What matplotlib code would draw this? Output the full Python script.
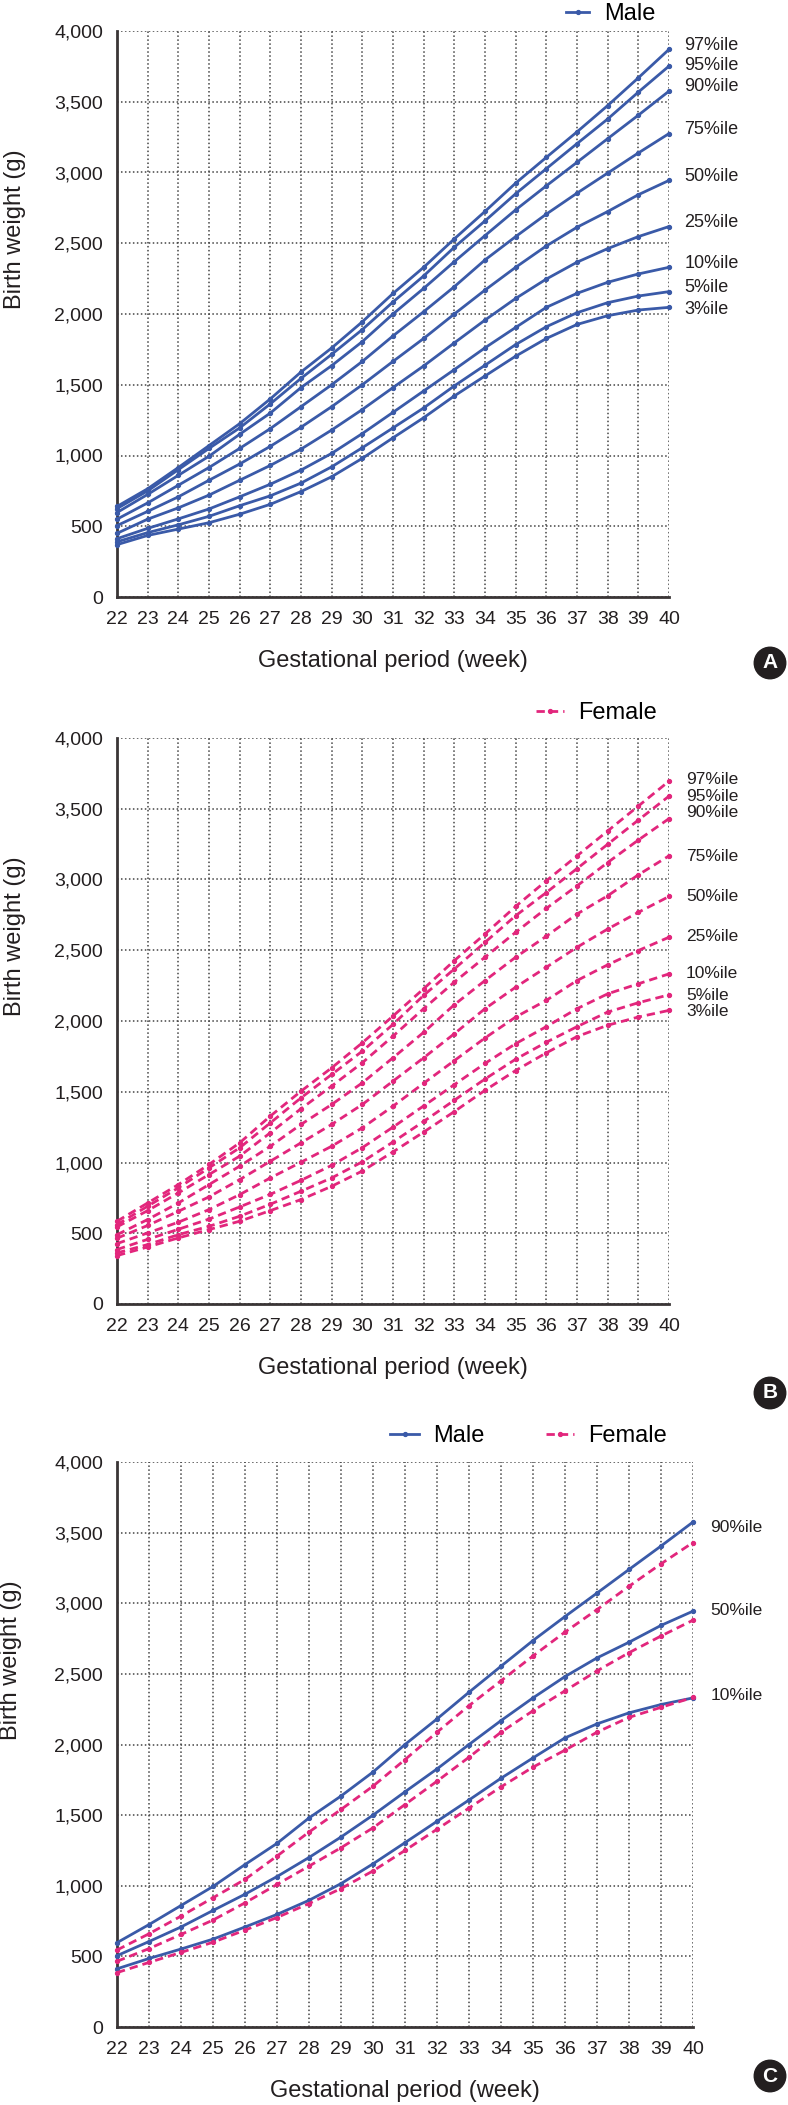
import numpy as np
import matplotlib.pyplot as plt
from matplotlib.lines import Line2D

plt.rcParams['font.family'] = ['Liberation Sans Narrow', 'Liberation Sans', 'DejaVu Sans']

weeks = list(range(22, 41))
pct_names = ['97%ile', '95%ile', '90%ile', '75%ile', '50%ile', '25%ile', '10%ile', '5%ile', '3%ile']

# male birth weight percentiles (g), weeks 22..40
male = {
    '97': [640, 765, 915, 1070, 1225, 1400, 1590, 1760, 1945, 2145, 2330, 2531, 2725, 2925, 3107, 3287, 3473, 3669, 3870],
    '95': [625, 750, 900, 1050, 1195, 1365, 1545, 1715, 1890, 2085, 2269, 2472, 2658, 2850, 3027, 3204, 3378, 3568, 3752],
    '90': [597, 725, 860, 995, 1150, 1300, 1480, 1635, 1805, 2000, 2181, 2370, 2554, 2736, 2906, 3072, 3239, 3405, 3575],
    '75': [550, 665, 790, 915, 1050, 1190, 1345, 1500, 1665, 1845, 2016, 2193, 2382, 2547, 2706, 2854, 2996, 3138, 3275],
    '50': [505, 605, 708, 825, 940, 1065, 1200, 1345, 1500, 1665, 1827, 2000, 2169, 2330, 2481, 2613, 2724, 2843, 2944],
    '25': [450, 550, 630, 720, 825, 930, 1045, 1180, 1325, 1480, 1633, 1796, 1957, 2110, 2247, 2366, 2462, 2547, 2618],
    '10': [412, 485, 552, 622, 708, 797, 897, 1015, 1155, 1305, 1456, 1607, 1761, 1905, 2047, 2146, 2224, 2283, 2330],
    '5':  [390, 455, 510, 570, 645, 715, 805, 920, 1055, 1195, 1336, 1492, 1638, 1784, 1910, 2009, 2080, 2127, 2158],
    '3':  [370, 435, 480, 525, 585, 655, 745, 850, 980, 1125, 1267, 1421, 1562, 1702, 1827, 1926, 1988, 2028, 2047],
}

# female birth weight percentiles (g), weeks 22..40
female = {
    '97': [585, 714, 844, 986, 1139, 1328, 1504, 1669, 1846, 2035, 2228, 2427, 2615, 2810, 2991, 3167, 3343, 3519, 3695],
    '95': [561, 691, 821, 962, 1104, 1280, 1457, 1622, 1787, 1976, 2181, 2368, 2556, 2744, 2908, 3077, 3249, 3420, 3589],
    '90': [545, 660, 785, 915, 1045, 1210, 1380, 1540, 1705, 1893, 2087, 2275, 2451, 2627, 2796, 2955, 3120, 3279, 3430],
    '75': [490, 597, 714, 844, 974, 1115, 1269, 1410, 1563, 1740, 1920, 2115, 2286, 2451, 2599, 2756, 2885, 3033, 3167],
    '50': [465, 555, 655, 757, 879, 1009, 1139, 1269, 1410, 1575, 1740, 1910, 2087, 2239, 2380, 2521, 2650, 2768, 2880],
    '25': [427, 502, 578, 667, 773, 891, 1002, 1115, 1245, 1398, 1560, 1720, 1880, 2028, 2146, 2286, 2397, 2498, 2592],
    '10': [385, 457, 528, 600, 686, 775, 874, 980, 1105, 1250, 1400, 1550, 1700, 1840, 1960, 2087, 2192, 2263, 2333],
    '5':  [361, 420, 490, 549, 620, 705, 797, 891, 1005, 1145, 1290, 1440, 1590, 1730, 1850, 1960, 2063, 2129, 2185],
    '3':  [342, 403, 467, 526, 585, 660, 738, 832, 940, 1075, 1215, 1360, 1510, 1650, 1775, 1890, 1970, 2028, 2075],
}

keys = ['97', '95', '90', '75', '50', '25', '10', '5', '3']
lab_y_a = [3894, 3753, 3611, 3307, 2975, 2650, 2360, 2184, 2035]
lab_y_b = [3710, 3585, 3472, 3166, 2883, 2596, 2337, 2177, 2066]
c_keys = ['90', '50', '10']
c_names = ['90%ile', '50%ile', '10%ile']
lab_y_c = [3538, 2946, 2350]

BLUE = '#3a5aa8'
PINK = '#e2267c'
INK = '#231f20'
W, H = 788, 2105


def setup(ax):
    ax.set_xlim(22, 40)
    ax.set_ylim(0, 4000)
    ax.set_xticks(weeks)
    ax.set_yticks(range(0, 4001, 500))
    ax.set_yticklabels(['{:,}'.format(v) for v in range(0, 4001, 500)])
    ax.tick_params(length=0, colors=INK, pad=10)
    for lab in ax.get_xticklabels() + ax.get_yticklabels():
        lab.set_family(['Liberation Sans', 'DejaVu Sans'])
        lab.set_fontsize(14)
    ax.spines['top'].set_visible(False)
    ax.spines['right'].set_visible(False)
    for s in ('left', 'bottom'):
        ax.spines[s].set_color('#3a3536')
        ax.spines[s].set_linewidth(2)
    ax.grid(True, color='#444444', linestyle=(0, (1, 1.6)), linewidth=1.1)
    ax.set_axisbelow(True)
    ax.set_xlabel('Gestational period (week)', fontsize=17, color=INK, labelpad=16)
    ax.set_ylabel('Birth weight (g)', fontsize=17, color=INK)
    ax.yaxis.set_label_coords(-0.165, 0.65)


def male_line(ax, ys):
    ax.plot(weeks, ys, color=BLUE, lw=2, marker='o', ms=2.8, clip_on=False, zorder=3)


def female_line(ax, ys):
    ax.plot(weeks, ys, color=PINK, lw=2, dashes=(3, 1.8), marker='o', ms=2.8,
            clip_on=False, zorder=3)


def badge(letter, x, y):
    fig.text(x / W, 1 - y / H, letter, ha='center', va='center', fontsize=15,
             fontweight='bold', color='white', family=['Liberation Sans', 'DejaVu Sans'],
             bbox=dict(boxstyle='circle,pad=0.3', fc=INK, ec=INK))


fig = plt.figure(figsize=(W / 100, H / 100), dpi=100)

# panel A - male
axA = fig.add_axes([117 / W, 1 - 597 / H, 552 / W, 566 / H])
setup(axA)
for k in keys:
    male_line(axA, male[k])
for name, y in zip(pct_names, lab_y_a):
    axA.text(40.5, y, name, fontsize=13, color=INK, va='center', ha='left')
hA = Line2D([], [], color=BLUE, lw=2, marker='o', ms=2.8)
axA.legend([hA], ['Male'], loc='center right', bbox_to_anchor=(655 / W, 1 - 14 / H),
           bbox_transform=fig.transFigure, frameon=False, fontsize=17, handlelength=1.0,
           handletextpad=0.6, borderpad=0, borderaxespad=0)
badge('A', 770, 663)

# panel B - female
axB = fig.add_axes([117 / W, 1 - 1304 / H, 552 / W, 566 / H])
setup(axB)
for k in keys:
    female_line(axB, female[k])
for name, y in zip(pct_names, lab_y_b):
    axB.text(40.55, y, name, fontsize=12.5, color=INK, va='center', ha='left')
hB = Line2D([], [], color=PINK, lw=2, dashes=(3, 1.8), marker='o', ms=2.8)
axB.legend([hB], ['Female'], loc='center right', bbox_to_anchor=(657 / W, 1 - 713 / H),
           bbox_transform=fig.transFigure, frameon=False, fontsize=17, handlelength=1.2,
           handletextpad=0.6, borderpad=0, borderaxespad=0)
badge('B', 770, 1393)

# panel C - male vs female, 90/50/10
axC = fig.add_axes([117 / W, 1 - 2027 / H, 576 / W, 565 / H])
setup(axC)
for k in c_keys:
    male_line(axC, male[k])
    female_line(axC, female[k])
for name, y in zip(c_names, lab_y_c):
    axC.text(40.55, y, name, fontsize=12.5, color=INK, va='center', ha='left')
axC.legend([hA, hB], ['Male', 'Female'], loc='center right', ncol=2,
           bbox_to_anchor=(667 / W, 1 - 1436 / H), bbox_transform=fig.transFigure,
           frameon=False, fontsize=17, handlelength=1.2, handletextpad=0.6,
           columnspacing=2.6, borderpad=0, borderaxespad=0)
badge('C', 770, 2076)

fig.savefig('out.png', dpi=100)
